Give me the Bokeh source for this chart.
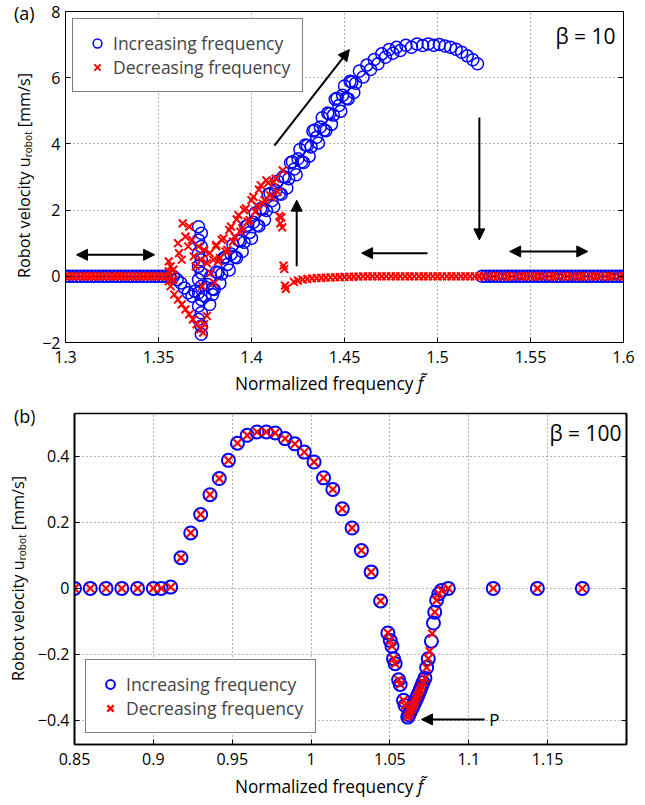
import math
from bokeh.plotting import figure
from bokeh.layouts import column, row
from bokeh.models import (Range1d, FixedTicker, LinearAxis, Label, Arrow,
                          NormalHead, Legend, LegendItem, Div)
from bokeh.embed import file_html
from bokeh.resources import INLINE

FONT = "Open Sans"
BLUE = "#0000ff"
RED = "#ff0000"

# ---------------- panel (a): beta = 10 ----------------
# increasing frequency (blue circles)
a_inc_left_x = [1.300, 1.302, 1.304, 1.306, 1.308, 1.310, 1.312, 1.314, 1.316, 1.318,
                1.320, 1.322, 1.324, 1.326, 1.328, 1.330, 1.332, 1.334, 1.336, 1.338,
                1.340, 1.342, 1.344, 1.346, 1.348, 1.350, 1.352, 1.354, 1.356]
a_inc_left_y = [0, 0, 0, 0, 0, 0, 0, 0, 0, 0,
                0, 0, 0, 0, 0, 0, 0, 0, 0, 0,
                0, 0, 0, 0, 0, 0, 0, 0, 0]
a_inc_chaos_x = [1.358, 1.360, 1.362, 1.364, 1.366, 1.368, 1.3695,
                 1.3715, 1.3715, 1.3715, 1.3715, 1.3715, 1.3715, 1.3715, 1.3715,
                 1.373, 1.373, 1.373, 1.373, 1.373, 1.373, 1.373, 1.373, 1.373,
                 1.375, 1.3765, 1.3775, 1.379]
a_inc_chaos_y = [0.0, -0.1, -0.2, -0.35, -0.5, -0.6, -0.45,
                 1.5, 1.1, 0.7, 0.3, -0.1, -0.5, -0.9, -1.3,
                 1.3, 0.9, 0.5, 0.1, -0.3, -0.7, -1.1, -1.5, -1.75,
                 -0.6, -0.25, -0.85, -0.55]
a_inc_rise_x = [1.378, 1.380, 1.382, 1.384, 1.386, 1.388, 1.390, 1.392, 1.394, 1.396,
                1.398, 1.400, 1.402, 1.404, 1.406, 1.408, 1.410, 1.412, 1.414, 1.416,
                1.418, 1.420, 1.422, 1.424, 1.426, 1.428, 1.430, 1.432, 1.434, 1.436,
                1.438, 1.440, 1.442, 1.444, 1.446, 1.448, 1.450, 1.452, 1.454, 1.456]
a_inc_rise_y = [-0.01, -0.40, 0.11, 0.07, 0.58, 0.19, 0.95, 0.56, 1.07, 1.03,
                1.54, 1.15, 1.91, 1.52, 2.03, 1.99, 2.50, 2.11, 2.87, 2.48,
                2.99, 2.95, 3.46, 3.07, 3.83, 3.44, 3.95, 3.91, 4.42, 4.03,
                4.79, 4.40, 4.91, 4.87, 5.38, 4.99, 5.75, 5.36, 5.87, 5.83]
a_inc_rise2_x = [1.379, 1.381, 1.383, 1.385, 1.387, 1.389, 1.391, 1.393, 1.395, 1.397,
                 1.399, 1.401, 1.403, 1.405, 1.407, 1.409, 1.411, 1.413, 1.415, 1.417,
                 1.419, 1.421, 1.423, 1.425, 1.427, 1.429, 1.431, 1.433, 1.435, 1.437,
                 1.439, 1.441, 1.443, 1.445, 1.447, 1.449, 1.451, 1.453, 1.455]
a_inc_rise2_y = [-0.38, 0.13, -0.21, 0.55, 0.36, 0.67, 0.58, 1.09, 0.75, 1.51,
                 1.32, 1.63, 1.54, 2.05, 1.71, 2.47, 2.28, 2.59, 2.50, 3.01,
                 2.67, 3.43, 3.24, 3.55, 3.46, 3.97, 3.63, 4.39, 4.20, 4.51,
                 4.42, 4.93, 4.59, 5.35, 5.16, 5.47, 5.38, 5.89, 5.55]
a_inc_top_x = [1.458, 1.460, 1.462, 1.464, 1.466, 1.468, 1.470, 1.472, 1.474, 1.476,
               1.478, 1.480, 1.483, 1.486, 1.489, 1.492, 1.495, 1.498, 1.501, 1.504,
               1.507, 1.510, 1.513, 1.516, 1.519, 1.5215]
a_inc_top_y = [6.20, 6.02, 6.38, 6.25, 6.55, 6.42, 6.72, 6.62, 6.85, 6.74,
               6.92, 6.82, 6.98, 6.92, 7.02, 6.97, 7.02, 6.98, 7.00, 6.96,
               6.92, 6.86, 6.77, 6.66, 6.54, 6.42]
a_inc_right_x = [1.524, 1.526, 1.528, 1.530, 1.532, 1.534, 1.536, 1.538, 1.540, 1.542,
                 1.544, 1.546, 1.548, 1.550, 1.552, 1.554, 1.556, 1.558, 1.560, 1.562,
                 1.564, 1.566, 1.568, 1.570, 1.572, 1.574, 1.576, 1.578, 1.580, 1.582,
                 1.584, 1.586, 1.588, 1.590, 1.592, 1.594, 1.596, 1.598, 1.600]
a_inc_right_y = [0, 0, 0, 0, 0, 0, 0, 0, 0, 0,
                 0, 0, 0, 0, 0, 0, 0, 0, 0, 0,
                 0, 0, 0, 0, 0, 0, 0, 0, 0, 0,
                 0, 0, 0, 0, 0, 0, 0, 0, 0]

# decreasing frequency (red crosses)
a_dec_tail_x = [1.6000, 1.5975, 1.5950, 1.5925, 1.5900, 1.5875, 1.5850, 1.5825, 1.5800, 1.5775,
                1.5750, 1.5725, 1.5700, 1.5675, 1.5650, 1.5625, 1.5600, 1.5575, 1.5550, 1.5525,
                1.5500, 1.5475, 1.5450, 1.5425, 1.5400, 1.5375, 1.5350, 1.5325, 1.5300, 1.5275,
                1.5250, 1.5225, 1.5200, 1.5175, 1.5150, 1.5125, 1.5100, 1.5075, 1.5050, 1.5025,
                1.5000, 1.4975, 1.4950, 1.4925, 1.4900, 1.4875, 1.4850, 1.4825, 1.4800, 1.4775,
                1.4750, 1.4725, 1.4700, 1.4675, 1.4650, 1.4625, 1.4600,
                1.4575, 1.4550, 1.4525, 1.4500, 1.4475, 1.4450, 1.4425, 1.4400, 1.4375, 1.4350,
                1.4325, 1.4300, 1.4275, 1.4250, 1.4228]
a_dec_tail_y = [0, 0, 0, 0, 0, 0, 0, 0, 0, 0,
                0, 0, 0, 0, 0, 0, 0, 0, 0, 0,
                0, 0, 0, 0, 0, 0, 0, 0, 0, 0,
                0, 0, 0, 0, 0, 0, 0, 0, 0, 0,
                0, 0, 0, 0, 0, 0, 0, 0, 0, 0,
                0, 0, 0, 0, 0, 0, 0,
                -0.01, -0.01, -0.015, -0.02, -0.025, -0.03, -0.035, -0.04, -0.045, -0.055,
                -0.065, -0.08, -0.10, -0.13, -0.17]
a_dec_jump_x = [1.4185, 1.4180, 1.4176, 1.4172, 1.4168, 1.4165, 1.4160, 1.4155, 1.4150]
a_dec_jump_y = [-0.38, -0.28, 0.22, 0.32, 3.20, 1.48, 1.78, 1.60, 1.82]
a_dec_upper_x = [1.413, 1.411, 1.409, 1.407, 1.405, 1.403, 1.401, 1.399, 1.397, 1.395,
                 1.393, 1.391, 1.389, 1.387, 1.385, 1.383, 1.381]
a_dec_upper_y = [2.95, 2.38, 2.82, 2.30, 2.75, 2.12, 2.40, 1.70, 2.05, 1.45,
                 1.85, 1.20, 1.50, 0.80, 1.15, 0.55, 0.95]
a_dec_upper2_x = [1.414, 1.412, 1.410, 1.408, 1.406, 1.404, 1.402, 1.400, 1.398, 1.396,
                  1.394, 1.392, 1.390, 1.388, 1.386, 1.384, 1.382]
a_dec_upper2_y = [2.55, 2.85, 2.45, 2.90, 2.20, 2.62, 1.95, 2.30, 1.65, 2.00,
                  1.35, 1.72, 1.05, 1.40, 0.75, 1.10, 0.45]
a_dec_chaos_x = [1.3555, 1.3555, 1.3555, 1.3565, 1.3565, 1.3565, 1.358, 1.358,
                 1.3585, 1.3605, 1.3625, 1.3645, 1.3665, 1.3685, 1.3705, 1.3725, 1.374, 1.3745, 1.376,
                 1.3605, 1.361, 1.3625, 1.363, 1.3645, 1.366, 1.3665, 1.368, 1.369, 1.370,
                 1.3715, 1.373, 1.3735, 1.3745, 1.376, 1.3775, 1.378, 1.3795, 1.380, 1.381]
a_dec_chaos_y = [0.45, 0.15, -0.15, 0.3, 0.0, -0.3, 0.2, -0.1,
                 -0.55, -0.7, -0.85, -1.0, -1.15, -1.3, -1.45, -1.6, -1.7, -1.45, -1.2,
                 1.0, 0.7, 0.5, 1.6, 1.2, 0.9, 1.5, 1.1, 0.6, 0.3,
                 0.9, 0.5, -0.3, 0.8, 0.4, 0.7, 0.1, 0.5, -0.2, 0.9]
a_dec_left_x = [1.354, 1.352, 1.350, 1.348, 1.346, 1.344, 1.342, 1.340, 1.338, 1.336,
                1.334, 1.332, 1.330, 1.328, 1.326, 1.324, 1.322, 1.320, 1.318, 1.316,
                1.314, 1.312, 1.310, 1.308, 1.306, 1.304, 1.302, 1.300]
a_dec_left_y = [0, 0, 0, 0, 0, 0, 0, 0, 0, 0,
                0, 0, 0, 0, 0, 0, 0, 0, 0, 0,
                0, 0, 0, 0, 0, 0, 0, 0]

a_xticks = [1.3, 1.35, 1.4, 1.45, 1.5, 1.55, 1.6]
a_xlabels = ["1.3", "1.35", "1.4", "1.45", "1.5", "1.55", "1.6"]
a_yticks = [-2, 0, 2, 4, 6, 8]
a_ylabels = ["\u22122", "0", "2", "4", "6", "8"]

# ---------------- panel (b): beta = 100 ----------------
b_inc_x = [0.85, 0.86, 0.87, 0.88, 0.89, 0.90, 0.905, 0.911,
           0.9175, 0.9237, 0.9300, 0.9359, 0.9418, 0.9476, 0.9533, 0.9595, 0.9657, 0.9716,
           0.9773, 0.9835, 0.9897, 0.9957, 1.0019, 1.0079, 1.0138, 1.0198, 1.0260, 1.0319,
           1.0381, 1.0441,
           1.0487, 1.0502, 1.0513, 1.0523, 1.0533, 1.0555, 1.0565, 1.0586, 1.0596, 1.0613,
           1.0620, 1.0628, 1.0636, 1.0644, 1.0652, 1.0660, 1.0668, 1.0676, 1.0684, 1.0692, 1.0700,
           1.0710, 1.0722, 1.0733, 1.0743,
           1.0763, 1.0776, 1.0784, 1.0796, 1.0810, 1.0827,
           1.0870, 1.1155, 1.1435, 1.1720]
b_inc_y = [0, 0, 0, 0, 0, 0, 0, 0.004,
           0.093, 0.168, 0.224, 0.284, 0.333, 0.388, 0.440, 0.464, 0.474, 0.474,
           0.471, 0.454, 0.438, 0.413, 0.383, 0.335, 0.300, 0.241, 0.183, 0.115,
           0.050, -0.038,
           -0.135, -0.158, -0.175, -0.213, -0.228, -0.277, -0.291, -0.339, -0.355, -0.390,
           -0.383, -0.375, -0.367, -0.359, -0.351, -0.343, -0.334, -0.325, -0.316, -0.307, -0.297,
           -0.285, -0.272, -0.240, -0.213,
           -0.160, -0.105, -0.072, -0.036, -0.016, -0.006,
           0, 0, 0, 0]
b_dec_x = [0.85, 0.86, 0.87, 0.88, 0.89, 0.90, 0.905, 0.911,
           0.9175, 0.9237, 0.9300, 0.9359, 0.9418, 0.9476, 0.9533, 0.9595, 0.9657, 0.9716,
           0.9773, 0.9835, 0.9897, 0.9957, 1.0019, 1.0079, 1.0138, 1.0198, 1.0260, 1.0319,
           1.0381, 1.0441,
           1.0487, 1.0502, 1.0513, 1.0523, 1.0533, 1.0555, 1.0565, 1.0586, 1.0596, 1.0613,
           1.0620, 1.0628, 1.0636, 1.0644, 1.0652, 1.0660, 1.0668, 1.0676, 1.0684, 1.0692, 1.0700,
           1.0710, 1.0722, 1.0733, 1.0743,
           1.0752, 1.0768, 1.0784, 1.0796, 1.0810, 1.0827,
           1.0870, 1.1155, 1.1435, 1.1720]
b_dec_y = [0, 0, 0, 0, 0, 0, 0, 0.004,
           0.093, 0.168, 0.224, 0.284, 0.333, 0.388, 0.440, 0.464, 0.474, 0.474,
           0.471, 0.454, 0.438, 0.413, 0.383, 0.335, 0.300, 0.241, 0.183, 0.115,
           0.050, -0.038,
           -0.135, -0.158, -0.175, -0.213, -0.228, -0.277, -0.291, -0.339, -0.355, -0.390,
           -0.383, -0.375, -0.367, -0.359, -0.351, -0.343, -0.334, -0.325, -0.316, -0.307, -0.297,
           -0.285, -0.272, -0.240, -0.213,
           -0.190, -0.137, -0.072, -0.036, -0.016, -0.006,
           0, 0, 0, 0]

b_xticks = [0.85, 0.9, 0.95, 1.0, 1.05, 1.1, 1.15]
b_xlabels = ["0.85", "0.9", "0.95", "1", "1.05", "1.1", "1.15"]
b_yticks = [-0.4, -0.2, 0, 0.2, 0.4]
b_ylabels = ["\u22120.4", "\u22120.2", "0", "0.2", "0.4"]

a_inc_x = a_inc_left_x + a_inc_chaos_x + a_inc_rise_x + a_inc_rise2_x + a_inc_top_x + a_inc_right_x
a_inc_y = a_inc_left_y + a_inc_chaos_y + a_inc_rise_y + a_inc_rise2_y + a_inc_top_y + a_inc_right_y
a_dec_x = a_dec_tail_x + a_dec_jump_x + a_dec_upper_x + a_dec_upper2_x + a_dec_chaos_x + a_dec_left_x
a_dec_y = a_dec_tail_y + a_dec_jump_y + a_dec_upper_y + a_dec_upper2_y + a_dec_chaos_y + a_dec_left_y

YDIV_W = 34  # width of the y-label column


def make_panel(xr, yr, width, height, bl, br, bt, bb, xt, xl, yt, yl, fw):
    p = figure(width=width, height=height, x_range=Range1d(*xr), y_range=Range1d(*yr),
               output_backend="svg", toolbar_location=None,
               min_border_left=bl, min_border_right=br, min_border_top=bt,
               min_border_bottom=bb)
    p.background_fill_color = "white"
    p.border_fill_color = "white"
    p.outline_line_color = "black"
    p.outline_line_width = fw
    for ax, ticks, labels in ((p.xaxis[0], xt, xl), (p.yaxis[0], yt, yl)):
        ax.ticker = FixedTicker(ticks=ticks)
        ax.major_label_overrides = dict(zip(ticks, labels))
        ax.major_label_text_font = FONT
        ax.major_label_text_font_size = "16px"
        ax.major_label_text_color = "black"
        ax.major_tick_in = 5
        ax.major_tick_out = 0
        ax.minor_tick_line_color = None
        ax.axis_line_color = "black"
        ax.axis_line_width = fw
        ax.major_tick_line_color = "black"
    p.xaxis[0].major_label_standoff = 8
    p.yaxis[0].major_label_standoff = 5
    p.add_layout(LinearAxis(ticker=FixedTicker(ticks=yt),
                            major_label_overrides={t: "" for t in yt},
                            major_tick_in=5, major_tick_out=0,
                            minor_tick_line_color=None, axis_line_width=fw,
                            major_label_standoff=0), "right")
    p.xgrid.ticker = FixedTicker(ticks=xt)
    p.ygrid.ticker = FixedTicker(ticks=yt)
    p.grid.grid_line_color = "#666666"
    p.grid.grid_line_dash = "1 3"
    p.grid.grid_line_width = 1
    return p


def txt(p, x, y, text, size, align="left", baseline="middle"):
    p.add_layout(Label(x=x, y=y, text=text, text_font=FONT, text_font_size=size,
                       text_align=align, text_baseline=baseline, text_color="black"))


def arrow(p, x0, y0, x1, y1, double=False):
    head = dict(size=11, fill_color="black", line_color="black", line_width=1)
    p.add_layout(Arrow(start=NormalHead(**head) if double else None,
                       end=NormalHead(**head),
                       x_start=x0, y_start=y0, x_end=x1, y_end=y1,
                       line_color="black", line_width=2))


def legend(p, r1, r2, loc, margin):
    lg = Legend(items=[LegendItem(label="Increasing frequency", renderers=[r1]),
                       LegendItem(label="Decreasing frequency", renderers=[r2])],
                location=loc, margin=margin, border_line_color="black",
                border_line_width=1, background_fill_color="white",
                background_fill_alpha=1.0, label_text_font=FONT,
                label_text_font_size="17.5px", glyph_width=24, glyph_height=22,
                label_height=22, spacing=0, padding=12, label_standoff=4)
    p.add_layout(lg)


def ylabel_div(height, tag, tag_top, lab_left, lab_top, lab_h):
    html = (
        f'<div style="position:relative;width:{YDIV_W}px;height:{height}px;'
        f'font-family:\'{FONT}\';color:black;">'
        f'<div style="position:absolute;left:14px;top:{tag_top}px;font-size:18px;'
        f'line-height:20px;white-space:nowrap;">{tag}</div>'
        f'<div style="position:absolute;left:{lab_left}px;top:{lab_top}px;height:{lab_h}px;'
        f'width:20px;line-height:20px;writing-mode:vertical-rl;transform:rotate(180deg);'
        f'font-size:16.25px;white-space:nowrap;">Robot velocity u<sub style="font-size:10px;">'
        f'robot</sub> [mm/s]</div></div>'
    )
    return Div(text=html, width=YDIV_W, height=height, margin=(0, 0, 0, 0))


def xlabel_div(height, top):
    html = (
        f'<div style="position:relative;width:645px;height:{height}px;'
        f'font-family:\'{FONT}\';color:black;">'
        f'<div style="position:absolute;left:235px;top:{top}px;font-size:17.25px;'
        f'line-height:20px;white-space:nowrap;">Normalized frequency '
        f'<i>f&#771;</i></div></div>'
    )
    return Div(text=html, width=645, height=height, margin=(0, 0, 0, 0))


# ---------- panel (a): frame x 65..623, y 11..342 ----------
def ax_(px):
    return 1.3 + (px - 65) * 0.3 / 558


def ay_(py):
    return -2 + (342 - py) * 10.0 / 331


pa = make_panel((1.3, 1.6), (-2, 8), 645 - YDIV_W, 372, 65 - YDIV_W, 22, 11, 30,
                a_xticks, a_xlabels, a_yticks, a_ylabels, 1)
ra1 = pa.scatter(a_inc_x, a_inc_y, marker="circle", size=12, fill_color=None,
                 line_color=BLUE, line_width=1.5)
ra2 = pa.scatter(a_dec_x, a_dec_y, marker="x", size=11, line_color=RED, line_width=2)
legend(pa, ra1, ra2, "top_left", 7)

arrow(pa, 1.3059, 0.65, 1.3479, 0.65, double=True)
arrow(pa, 1.4123, 3.95, 1.4526, 6.85)
arrow(pa, 1.5225, 4.8, 1.5225, 1.1)
arrow(pa, 1.4243, 0.3, 1.4243, 2.3)
arrow(pa, 1.4946, 0.7, 1.4592, 0.7)
arrow(pa, 1.5388, 0.75, 1.5808, 0.75, double=True)
txt(pa, ax_(615), ay_(35), "\u03b2 = 10", "21px", align="right")


# ---------- panel (b): frame x 67..626, y 413..744 ----------
def bx_(px):
    return 0.85 + (px - 67) * 0.35 / 559


def by_(py):
    return 0.530 - (py - 413) * 1.003 / 331


pb = make_panel((0.85, 1.2), (-0.473, 0.530), 645 - YDIV_W, 372, 67 - YDIV_W, 19, 13, 28,
                b_xticks, b_xlabels, b_yticks, b_ylabels, 1.6)
rb1 = pb.scatter(b_inc_x, b_inc_y, marker="circle", size=13, fill_color=None,
                 line_color=BLUE, line_width=2)
rb2 = pb.scatter(b_dec_x, b_dec_y, marker="x", size=11, line_color=RED, line_width=2.2)
legend(pb, rb1, rb2, "bottom_left", 11)

arrow(pb, 1.110, -0.397, 1.070, -0.397)
txt(pb, bx_(487), -0.397, "P", "17px")
txt(pb, bx_(621), by_(432), "\u03b2 = 100", "21px", align="right")

ya = ylabel_div(372, "(a)", 3, 14, 53, 225)
yb = ylabel_div(372, "(b)", 6, 8, 56, 225)
xa = xlabel_div(28, 2)
xb = xlabel_div(33, 5)

layout = column(row(ya, pa), xa, row(yb, pb), xb)
open("out.html", "w").write(file_html(layout, INLINE))
